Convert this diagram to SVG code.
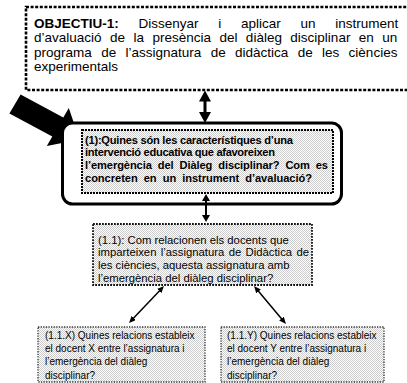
<svg xmlns="http://www.w3.org/2000/svg" width="407" height="383" viewBox="0 0 407 383">
  <defs>
    <!-- light grey stipple used as box fill -->
    <pattern id="stipple" width="2" height="2" patternUnits="userSpaceOnUse">
      <rect width="2" height="2" fill="#ffffff"/>
      <rect x="0" y="0" width="1" height="1" fill="#cccccc"/>
      <rect x="1" y="1" width="1" height="1" fill="#cccccc"/>
    </pattern>
    <marker id="head-lg" markerUnits="userSpaceOnUse" markerWidth="11" markerHeight="12" refX="5" refY="6" orient="auto-start-reverse">
      <path d="M0,0 L11,6 L0,12 z" fill="#000"/>
    </marker>
    <marker id="head-md" markerUnits="userSpaceOnUse" markerWidth="7" markerHeight="8" refX="3" refY="4" orient="auto-start-reverse">
      <path d="M0,0 L7,4 L0,8 z" fill="#000"/>
    </marker>
    <marker id="head-sm" markerUnits="userSpaceOnUse" markerWidth="7" markerHeight="6" refX="3" refY="3" orient="auto-start-reverse">
      <path d="M0,0 L7,3 L0,6 z" fill="#000"/>
    </marker>
  </defs>
  <style>
    text { font-family: "Liberation Sans", Arial, sans-serif; fill: #000; }
    .obj { font-size: 13.5px; }
    .q1 { font-size: 11.1px; font-weight: bold; }
    .q11 { font-size: 11.3px; }
    .qx { font-size: 10px; }
    .b { font-weight: bold; }
    .frame-obj { fill: #fff; stroke: #000; stroke-width: 2.6; stroke-dasharray: 3 1.6; }
    .frame-main { fill: #fff; stroke: #000; stroke-width: 3; }
    .frame-q1 { fill: url(#stipple); stroke: #000; stroke-width: 2; stroke-dasharray: 2 1; }
    .frame-q11 { fill: url(#stipple); stroke: #111; stroke-width: 1.8; stroke-dasharray: 1.8 1.2; }
    .frame-qx { fill: url(#stipple); stroke: #333; stroke-width: 1.3; stroke-dasharray: 1.3 1.3; }
    .link-lg { stroke: #000; stroke-width: 3; fill: none; }
    .link-md { stroke: #000; stroke-width: 2; fill: none; }
    .link-sm { stroke: #000; stroke-width: 1.5; fill: none; }
  </style>

  <rect width="407" height="383" fill="#fff"/>

  <!-- objective -->
  <g id="objectiu">
    <rect class="frame-obj" x="26" y="7" width="400" height="83"/>
    <text class="obj" x="34" y="27.5" style="word-spacing:16px"><tspan class="b">OBJECTIU-1:</tspan> Dissenyar i aplicar un instrument</text>
    <text class="obj" x="34" y="42" style="word-spacing:4.7px">d’avaluació de la presència del diàleg disciplinar en un</text>
    <text class="obj" x="34" y="56.5" style="word-spacing:5.6px">programa de l’assignatura de didàctica de les ciències</text>
    <text class="obj" x="34" y="71">experimentals</text>
  </g>

  <!-- pointer arrow -->
  <g id="pointer">
    <polygon points="20.6,94.5 63.3,117.4 68.8,107.9 79.5,139.5 46.8,146.1 52.3,136.6 9.4,113.5" fill="#000"/>
  </g>

  <!-- main question -->
  <g id="pregunta-1">
    <rect class="frame-main" x="62.5" y="123" width="279" height="81" rx="10"/>
    <rect class="frame-q1" x="82" y="130" width="251" height="63"/>
    <text class="q1" x="85" y="143.5" textLength="208" lengthAdjust="spacing">(1):Quines són les característiques d’una</text>
    <text class="q1" x="85" y="156.3" textLength="190" lengthAdjust="spacing">intervenció educativa que afavoreixen</text>
    <text class="q1" x="85" y="169.1" textLength="243" lengthAdjust="spacing" style="word-spacing:3px">l’emergència del Diàleg disciplinar? Com es</text>
    <text class="q1" x="85" y="181.9" textLength="227" lengthAdjust="spacing" style="word-spacing:3px">concreten en un instrument d’avaluació?</text>
  </g>

  <!-- sub-question 1.1 -->
  <g id="pregunta-1-1">
    <rect class="frame-q11" x="93" y="224" width="219" height="61"/>
    <text class="q11" x="98" y="243.5">(1.1): Com relacionen els docents que</text>
    <text class="q11" x="98" y="256.3" textLength="211" lengthAdjust="spacing" style="word-spacing:1.2px">imparteixen l’assignatura de Didàctica de</text>
    <text class="q11" x="98" y="269.1">les ciències, aquesta assignatura amb</text>
    <text class="q11" x="98" y="281.6">l’emergència del diàleg disciplinar?</text>
  </g>

  <!-- teacher X -->
  <g id="pregunta-1-1-x">
    <rect class="frame-qx" x="38" y="327" width="167" height="55"/>
    <text class="qx" x="45" y="339">(1.1.X) Quines relacions estableix</text>
    <text class="qx" x="45" y="352.2">el docent X entre l’assignatura i</text>
    <text class="qx" x="45" y="365.4">l’emergència del diàleg</text>
    <text class="qx" x="45" y="378.6">disciplinar?</text>
  </g>

  <!-- teacher Y -->
  <g id="pregunta-1-1-y">
    <rect class="frame-qx" x="221" y="327" width="163" height="55"/>
    <text class="qx" x="227" y="339">(1.1.Y) Quines relacions estableix</text>
    <text class="qx" x="227" y="352.2">el docent Y entre l’assignatura i</text>
    <text class="qx" x="227" y="365.4">l’emergència del diàleg</text>
    <text class="qx" x="227" y="378.6">disciplinar?</text>
  </g>

  <!-- connectors -->
  <g id="connectors">
    <line class="link-lg" x1="205" y1="96.5" x2="205" y2="117" marker-start="url(#head-lg)" marker-end="url(#head-lg)"/>
    <line class="link-md" x1="206" y1="198" x2="206" y2="218" marker-start="url(#head-md)" marker-end="url(#head-md)"/>
    <line class="link-sm" x1="161.25" y1="288.9" x2="131.75" y2="320.1" marker-start="url(#head-sm)" marker-end="url(#head-sm)"/>
    <line class="link-sm" x1="256.6" y1="289.1" x2="283.4" y2="320.9" marker-start="url(#head-sm)" marker-end="url(#head-sm)"/>
  </g>
</svg>
